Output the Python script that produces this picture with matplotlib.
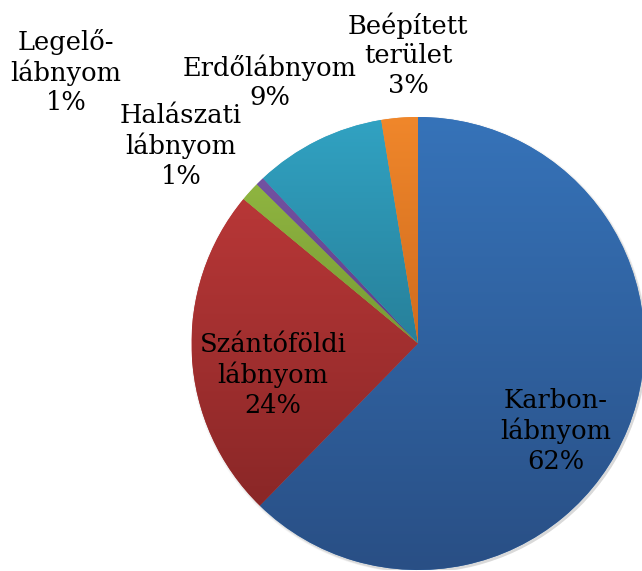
import matplotlib.pyplot as plt
import matplotlib.colors as mcolors
import numpy as np
from matplotlib.patches import Circle

# data
names = ["Karbon-\nlábnyom", "Szántóföldi\nlábnyom", "Legelő-\nlábnyom",
         "Halászati\nlábnyom", "Erdőlábnyom", "Beépített\nterület"]
values = [62.3, 23.7, 1.4, 0.6, 9.4, 2.6]
top_colors = ["#3673b9", "#b83737", "#8fb540", "#7352a2", "#31a2c2", "#f0872b"]
bottom_colors = ["#294f85", "#8a2727", "#789a35", "#5e4186", "#27809a", "#d06c1e"]

# label centres in pixels (x, y from top)
label_pos = [(556, 431), (273, 375), (66, 72), (181, 146), (270, 82), (408, 55)]

W, H = 642, 571
fig = plt.figure(figsize=(W / 100, H / 100), dpi=100)
cx, cy, r = 418, 343.5, 226.5
ax = fig.add_axes([(cx - r) / W, (H - cy - r) / H, 2 * r / W, 2 * r / H])
ax.set_xlim(-1, 1)
ax.set_ylim(-1, 1)
ax.set_aspect("equal")
ax.axis("off")

# soft shadow
for k, a in enumerate([0.03, 0.03, 0.04, 0.05]):
    ax.add_patch(Circle((0.003 + 0.002 * k, -0.005 - 0.002 * k), 1.0 + 0.003 * (3 - k),
                        color="black", alpha=a, lw=0, zorder=0))

wedges, _ = ax.pie(values, startangle=90, counterclock=False, radius=1,
                   colors=top_colors, wedgeprops=dict(linewidth=0))

for w, c1, c2 in zip(wedges, top_colors, bottom_colors):
    w.set_zorder(1)
    bb = w.get_path().get_extents(w.get_patch_transform())
    cmap = mcolors.LinearSegmentedColormap.from_list("g", [c2, c1])
    grad = np.linspace(0, 1, 256).reshape(-1, 1)
    im = ax.imshow(grad, cmap=cmap, origin="lower", aspect="auto",
                   extent=[bb.x0, bb.x1, bb.y0, bb.y1], zorder=2)
    im.set_clip_path(w)
ax.set_xlim(-1, 1)
ax.set_ylim(-1, 1)

for name, v, (px, py) in zip(names, values, label_pos):
    fig.text(px / W, 1 - py / H, f"{name}\n{round(v)}%", ha="center", va="center",
             fontsize=18.5, family="DejaVu Serif", linespacing=1.22, color="black")

fig.savefig("out.png", dpi=100)
